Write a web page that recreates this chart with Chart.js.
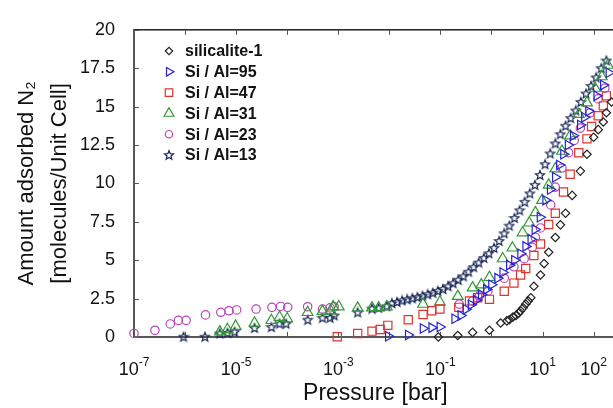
<!DOCTYPE html>
<html>
<head>
<meta charset="utf-8">
<script src="https://cdn.jsdelivr.net/npm/chart.js@4.4.0/dist/chart.umd.min.js"></script>
<style>
  html, body { margin: 0; padding: 0; background: #fff; overflow: hidden; }
</style>
</head>
<body>
<canvas id="chart" width="624" height="408"></canvas>
<script>
// pressures are kept as log10(P / bar), amounts in molecules per unit cell
const silExp = [-1.04, -0.66, -0.37, -0.04, 0.18, 0.30, 0.35, 0.42, 0.48, 0.53, 0.57, 0.62, 0.67, 0.72, 0.77, 0.83, 0.96, 1.03, 1.12, 1.25, 1.35, 1.45, 1.58, 1.74, 1.87, 2.00, 2.09, 2.19, 2.25, 2.35];
const silN   = [0.0, 0.1, 0.3, 0.44, 0.91, 1.05, 1.12, 1.3, 1.4, 1.55, 1.71, 1.9, 2.14, 2.35, 2.56, 3.3, 4.04, 4.78, 5.52, 6.48, 7.3, 8.06, 9.22, 10.8, 11.9, 13.0, 13.5, 14.0, 14.6, 15.3];

const al95Exp = [-2.02, -1.63, -1.34, -1.17, -1.01, -0.72, -0.60, -0.50, -0.40, -0.30, -0.20, -0.10, 0.00, 0.12, 0.22, 0.35, 0.45, 0.57, 0.67, 0.77, 0.85, 0.95, 1.06, 1.15, 1.25, 1.33, 1.41, 1.50, 1.60, 1.74, 1.82, 1.90, 2.06, 2.19, 2.30];
const al95N   = [0.05, 0.13, 0.55, 0.61, 0.65, 1.19, 1.4, 1.8, 2.1, 2.4, 2.77, 3.1, 3.4, 3.83, 4.2, 4.68, 5.0, 5.42, 5.9, 6.37, 7.0, 7.8, 8.9, 9.6, 10.4, 11.2, 11.9, 12.5, 13.1, 13.8, 14.3, 14.7, 15.7, 16.4, 17.2];

const al47Exp = [-3.02, -2.62, -2.34, -2.18, -2.03, -1.63, -1.34, -1.17, -1.01, -0.64, -0.43, -0.27, -0.04, 0.25, 0.44, 0.57, 0.67, 0.83, 0.96, 1.12, 1.25, 1.41, 1.54, 1.71, 1.87, 1.96, 2.09, 2.19, 2.25];
const al47N   = [0.02, 0.23, 0.38, 0.49, 0.76, 1.12, 1.46, 1.71, 1.82, 1.93, 2.35, 2.56, 2.45, 2.98, 3.51, 4.04, 4.46, 5.31, 6.05, 7.32, 8.06, 9.44, 10.6, 12.0, 12.9, 13.7, 14.4, 15.05, 15.7];

const al31Exp = [-5.32, -5.17, -5.01, -4.64, -4.31, -4.15, -4.00, -3.60, -3.31, -3.15, -3.10, -2.99, -2.62, -2.34, -2.21, -2.05, -1.34, -1.01, -0.66, -0.37, -0.20, -0.04, 0.22, 0.41, 0.61, 0.74, 0.86, 0.99, 1.12, 1.25, 1.38, 1.54, 1.71, 1.87, 2.03, 2.16, 2.28];
const al31N   = [0.34, 0.49, 0.70, 0.91, 1.08, 1.29, 1.19, 1.6, 1.67, 1.71, 1.97, 1.97, 1.88, 1.9, 1.9, 1.97, 2.14, 2.28, 2.65, 3.2, 3.4, 3.88, 5.1, 5.8, 6.79, 7.43, 8.1, 8.9, 9.9, 10.95, 12.1, 13.1, 14.5, 15.25, 16.2, 16.95, 17.7];

const al23Exp = [-7.00, -6.59, -6.29, -6.13, -5.98, -5.60, -5.30, -5.14, -4.99, -4.61, -4.30, -4.13, -3.99, -3.60, -3.31, -3.16, -3.08, -0.63, -0.37, -0.24, -0.07, 0.25, 0.44, 0.64, 0.80, 0.86, 0.96, 1.16, 1.25, 1.38, 1.51, 1.62, 1.74, 1.93, 2.09, 2.22];
const al23N   = [0.23, 0.44, 0.85, 1.08, 1.08, 1.44, 1.61, 1.71, 1.76, 1.82, 1.93, 1.99, 1.93, 1.97, 1.82, 1.9, 1.97, 2.14, 2.35, 2.67, 2.98, 3.83, 4.57, 5.1, 5.84, 6.48, 7.1, 8.6, 9.76, 11.0, 12.0, 12.8, 13.6, 14.6, 15.5, 16.2];

const al13Exp = [-6.03, -5.61, -5.32, -5.17, -5.03, -4.64, -4.31, -4.15, -4.02, -3.60, -3.31, -3.16, -3.08, -2.62, -2.34, -2.21, -2.05,
  -1.95, -1.85, -1.75, -1.65, -1.55, -1.45, -1.35, -1.25, -1.15, -1.05, -0.95, -0.85, -0.75, -0.65, -0.55, -0.45, -0.35, -0.25, -0.15, -0.05,
  0.05, 0.15, 0.25, 0.35, 0.45, 0.55, 0.65, 0.75, 0.85, 0.95, 1.05, 1.15, 1.25, 1.35, 1.45, 1.55, 1.65, 1.75, 1.85, 1.95, 2.05, 2.15, 2.25];
const al13N   = [0.02, 0.02, 0.23, 0.27, 0.34, 0.59, 0.65, 0.87, 0.87, 1.12, 1.25, 1.25, 1.4, 1.6, 1.85, 1.9, 2.0,
  2.2, 2.28, 2.38, 2.45, 2.52, 2.6, 2.68, 2.78, 2.88, 3.0, 3.12, 3.3, 3.5, 3.72, 3.95, 4.25, 4.55, 4.85, 5.15, 5.45,
  5.8, 6.25, 6.75, 7.25, 7.75, 8.25, 8.8, 9.35, 9.9, 10.55, 11.25, 11.95, 12.6, 13.2, 13.75, 14.25, 14.75, 15.3, 15.85, 16.35, 16.9, 17.5, 18.0];

const seriesLabels = ['silicalite-1', 'Si / Al=95', 'Si / Al=47', 'Si / Al=31', 'Si / Al=23', 'Si / Al=13'];
const yTicks = [0, 2.5, 5, 7.5, 10, 12.5, 15, 17.5, 20];
const yTickLabels = ['0', '2.5', '5', '7.5', '10', '12.5', '15', '17.5', '20'];
const xDecades = [-7, -6, -5, -4, -3, -2, -1, 0, 1, 2];
const xLabelExps = [-7, -5, -3, -1, 1, 2];

const FONT = '"Liberation Sans", Arial, Helvetica, sans-serif';
Chart.defaults.font.family = FONT;
Chart.defaults.color = '#111';

function toPoints(exps, vals) {
  return exps.map((e, i) => ({ x: Math.pow(10, e), y: vals[i] }));
}

function starImage(color) {
  const cv = document.createElement('canvas');
  cv.width = 12; cv.height = 12;
  const g = cv.getContext('2d');
  g.strokeStyle = color;
  g.lineWidth = 1.2;
  g.beginPath();
  for (let i = 0; i < 10; i++) {
    const r = i % 2 ? 2.1 : 4.8;
    const a = -Math.PI / 2 + i * Math.PI / 5;
    g.lineTo(6 + r * Math.cos(a), 6.4 + r * Math.sin(a));
  }
  g.closePath();
  g.stroke();
  return cv;
}

const star = starImage('#1a2857');

function ds(label, data, color, style, radius, rotation) {
  return {
    label: label,
    data: data,
    showLine: false,
    clip: false,
    pointStyle: style,
    pointRadius: radius,
    pointHoverRadius: radius,
    pointRotation: rotation || 0,
    pointBorderWidth: 1.2,
    borderColor: color,
    backgroundColor: 'rgba(0,0,0,0)',
    pointBorderColor: color,
    pointBackgroundColor: 'rgba(0,0,0,0)'
  };
}

// box round the plot with inward ticks
const framePlugin = {
  id: 'frame',
  beforeDatasetsDraw(chart) {
    const { ctx, chartArea: a, scales } = chart;
    ctx.save();
    ctx.strokeStyle = '#222';
    ctx.lineWidth = 1.5;
    ctx.strokeRect(a.left, a.top, a.right - a.left, a.bottom - a.top);
    ctx.lineWidth = 1;
    ctx.strokeStyle = '#555';
    ctx.beginPath();
    yTicks.forEach(v => {
      const py = Math.round(scales.y.getPixelForValue(v)) + 0.5;
      ctx.moveTo(a.left, py); ctx.lineTo(a.left + 5, py);
    });
    xDecades.forEach(e => {
      const px = Math.round(scales.x.getPixelForValue(Math.pow(10, e))) + 0.5;
      ctx.moveTo(px, a.bottom); ctx.lineTo(px, a.bottom - 5);
      ctx.moveTo(px, a.top); ctx.lineTo(px, a.top + 5);
    });
    ctx.stroke();
    ctx.restore();
  },
  afterDraw(chart) {
    const { ctx, scales } = chart;
    ctx.save();
    ctx.fillStyle = '#111';
    ctx.textBaseline = 'alphabetic';
    ctx.textAlign = 'left';
    xLabelExps.forEach(e => {
      const px = scales.x.getPixelForValue(Math.pow(10, e));
      ctx.font = '18px ' + FONT;
      const wb = ctx.measureText('10').width;
      ctx.font = '12px ' + FONT;
      const ex = String(e);
      const we = ctx.measureText(ex).width;
      const left = px - (wb + we) / 2;
      ctx.font = '18px ' + FONT;
      ctx.fillText('10', left, 375);
      ctx.font = '12px ' + FONT;
      ctx.fillText(ex, left + wb, 366);
    });
    ctx.restore();
  }
};

// legend inside the plot, top left
const legendPlugin = {
  id: 'insideLegend',
  afterDraw(chart) {
    const ctx = chart.ctx;
    chart.data.datasets.forEach((d, i) => {
      const y = 51 + i * 20.8;
      ctx.save();
      ctx.strokeStyle = d.borderColor;
      ctx.fillStyle = 'rgba(0,0,0,0)';
      ctx.lineWidth = d.pointBorderWidth;
      Chart.helpers.drawPoint(ctx, {
        pointStyle: d.pointStyle,
        radius: d.pointRadius - 0.5,
        rotation: d.pointRotation,
        borderWidth: d.pointBorderWidth
      }, 169, y);
      ctx.fillStyle = '#111';
      ctx.font = 'bold 16px ' + FONT;
      ctx.textBaseline = 'middle';
      ctx.fillText(d.label, 185, y + 1);
      ctx.restore();
    });
  }
};

new Chart(document.getElementById('chart'), {
  type: 'scatter',
  data: {
    datasets: [
      ds(seriesLabels[0], toPoints(silExp, silN), '#222222', 'rectRot', 4.2),
      ds(seriesLabels[1], toPoints(al95Exp, al95N), '#2323d8', 'triangle', 5.5, 90),
      ds(seriesLabels[2], toPoints(al47Exp, al47N), '#e0332d', 'rect', 5.8),
      ds(seriesLabels[3], toPoints(al31Exp, al31N), '#2f9a30', 'triangle', 6.2),
      ds(seriesLabels[4], toPoints(al23Exp, al23N), '#bb44bb', 'circle', 4.2),
      ds(seriesLabels[5], toPoints(al13Exp, al13N), '#1a2857', star, 5)
    ]
  },
  options: {
    responsive: false,
    animation: false,
    devicePixelRatio: 1,
    layout: { padding: { top: 21, right: 3, bottom: 0, left: 0 } },
    plugins: {
      legend: { display: false },
      tooltip: { enabled: false }
    },
    scales: {
      x: {
        type: 'logarithmic',
        min: 1e-7,
        max: Math.pow(10, 2.45),
        ticks: { display: false },
        grid: { display: false },
        border: { display: false },
        title: {
          display: true,
          text: 'Pressure [bar]',
          color: '#111',
          font: { size: 23, lineHeight: 1.2 },
          padding: { top: 0, bottom: 1 }
        },
        afterFit: s => { s.height = 71; }
      },
      y: {
        type: 'linear',
        min: 0,
        max: 20,
        afterBuildTicks: s => { s.ticks = yTicks.map(v => ({ value: v })); },
        ticks: {
          autoSkip: false,
          padding: 19,
          color: '#111',
          font: { size: 18 },
          callback: (v, i) => yTickLabels[i]
        },
        grid: { display: false, drawTicks: false },
        border: { display: false },
        title: {
          display: true,
          text: ['Amount adsorbed N\u2082', '[molecules/Unit Cell]'],
          color: '#111',
          font: { size: 22, lineHeight: 1.5 },
          padding: { top: 10, bottom: 0 }
        },
        afterFit: s => { s.width = 134; }
      }
    }
  },
  plugins: [framePlugin, legendPlugin]
});
</script>
</body>
</html>
